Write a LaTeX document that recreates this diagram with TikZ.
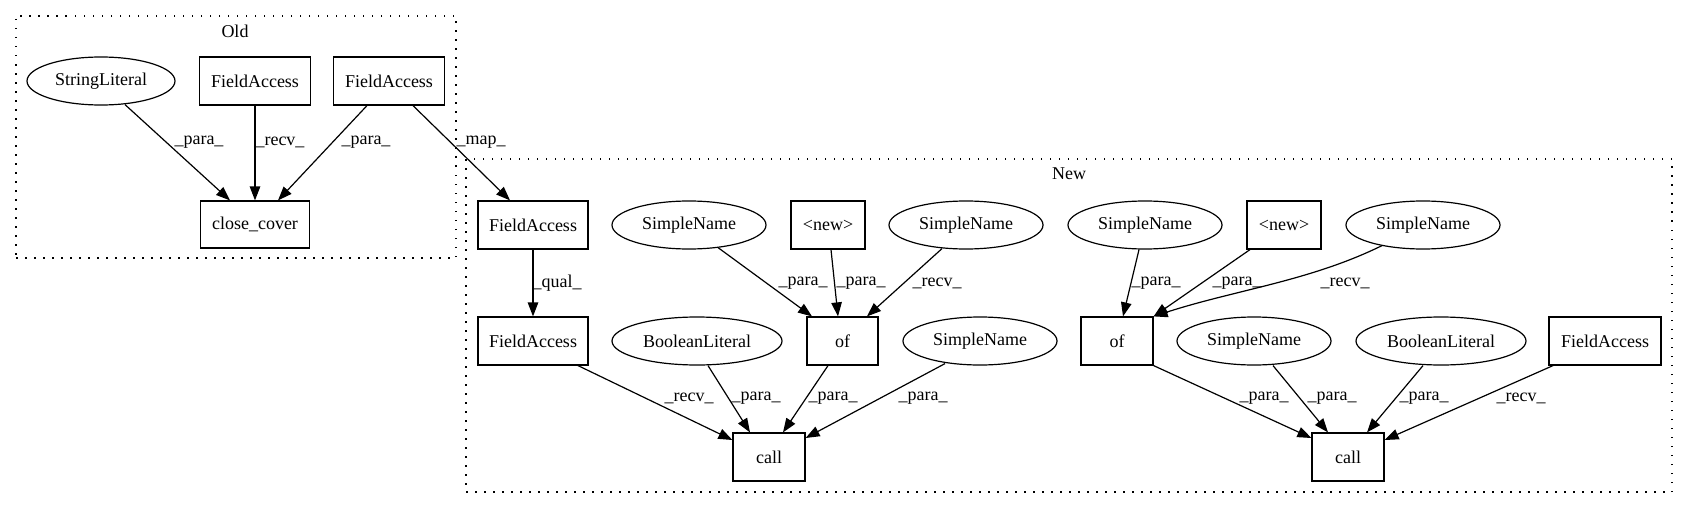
\documentclass[tikz,border=0pt]{standalone}
\usepackage{fontspec}
\setmainfont{Liberation Serif}
\usetikzlibrary{arrows.meta,shapes.geometric}
\begin{document}
\begin{tikzpicture}[x=1pt,y=-1pt,
  every node/.style={font=\fontsize{18}{22}\selectfont},
  box/.style={draw, rectangle, line width=1.2pt, minimum height=48pt, inner sep=0pt},
  oval/.style={draw, ellipse, line width=1.2pt, minimum height=48pt, inner sep=0pt},
  edge/.style={draw, line width=1.2pt, -{Triangle[length=14pt,width=10.5pt]}},
  lbl/.style={inner sep=0pt},
  cluster/.style={draw, line width=1.2pt, dash pattern=on 1.5pt off 7.5pt, inner sep=0pt}]
\useasboundingbox (0,0) rectangle (1688,508);

% clusters
\node[cluster, minimum width=440pt, minimum height=242pt] (oldc) at (236,137) {};
\node[lbl] (oldt) at (235,31) {Old};
\node[cluster, minimum width=1206pt, minimum height=333pt] (newc) at (1069,325.5) {};
\node[lbl] (newt) at (1069,174) {New};

% Old nodes
\node[oval, minimum width=148pt] (sl) at (101,81) {StringLiteral};
\node[box, minimum width=111pt] (faa) at (255,81) {FieldAccess};
\node[box, minimum width=111pt] (fab) at (389,81) {FieldAccess};
\node[box, minimum width=109pt, minimum height=47pt] (cc) at (255,224.5) {close\_cover};

% New nodes
\node[box, minimum width=110pt] (fa1) at (533,225) {FieldAccess};
\node[oval, minimum width=154pt] (sn1) at (689,225) {SimpleName};
\node[box, minimum width=74pt] (nw1) at (828,225) {<new>};
\node[oval, minimum width=154pt] (sn2) at (966,225) {SimpleName};
\node[oval, minimum width=154pt] (sn3) at (1145,225) {SimpleName};
\node[box, minimum width=74pt] (nw2) at (1284,225) {<new>};
\node[oval, minimum width=154pt] (sn4) at (1423,225) {SimpleName};

\node[box, minimum width=110pt] (fa2) at (533,341) {FieldAccess};
\node[oval, minimum width=170pt] (bl1) at (697,341) {BooleanLiteral};
\node[box, minimum width=71pt] (of1) at (842.5,341) {of};
\node[oval, minimum width=154pt] (sn5) at (980,341) {SimpleName};
\node[box, minimum width=72pt] (of2) at (1117,341) {of};
\node[oval, minimum width=154pt] (sn6) at (1254,341) {SimpleName};
\node[oval, minimum width=170pt] (bl2) at (1441,341) {BooleanLiteral};
\node[box, minimum width=112pt] (fa3) at (1605,341) {FieldAccess};

\node[box, minimum width=72pt] (ca1) at (769,457) {call};
\node[box, minimum width=72pt] (ca2) at (1348,457) {call};

% Old edges
\draw[edge] ([xshift=24pt,yshift=1pt]sl.south) -- ([xshift=-25pt]cc.north);
\draw[edge] (faa.south) -- (cc.north);
\draw[edge] ([xshift=-22pt]fab.south) -- ([xshift=23pt]cc.north);
\draw[edge] ([xshift=24pt]fab.south) -- ([xshift=-23pt]fa1.north);

\node[lbl] (l1) at (199,142) {\_para\_};
\node[lbl] (l2) at (280,142) {\_recv\_};
\node[lbl] (l3) at (366,142) {\_para\_};
\node[lbl] (l4) at (481,142) {\_map\_};

% New edges
\draw[edge] (fa1.south) -- (fa2.north);
\draw[edge] ([xshift=29pt,yshift=2pt]sn1.south) -- ([xshift=-30.5pt]of1.north);
\draw[edge] ([xshift=3pt]nw1.south) -- ([xshift=-4.5pt]of1.north);
\draw[edge] ([xshift=-24pt,yshift=1pt]sn2.south) -- ([xshift=24.5pt]of1.north);
\draw[edge] ([xshift=-6pt]sn3.south) -- ([xshift=6pt]of2.north);
\draw[edge] ([xshift=-34pt]nw2.south) -- (of2.north east);
\draw[edge] ([xshift=-41pt,yshift=4pt]sn4.south) .. controls (1310,281) and (1235,290) .. (of2.north east);

\draw[edge] ([xshift=45pt]fa2.south) -- ([yshift=17pt]ca1.west);
\draw[edge] ([xshift=11pt]bl1.south) -- ([xshift=-19pt]ca1.north);
\draw[edge] ([xshift=-14.5pt]of1.south) -- ([xshift=14pt]ca1.north);
\draw[edge] ([xshift=-35pt,yshift=2pt]sn5.south) -- ([yshift=19pt]ca1.east);

\draw[edge] (of2.south east) -- ([yshift=19pt]ca2.west);
\draw[edge] ([xshift=19pt]sn6.south) -- ([xshift=-20pt]ca2.north);
\draw[edge] ([xshift=-18pt]bl2.south) -- ([xshift=19pt]ca2.north);
\draw[edge] ([xshift=-52pt]fa3.south) -- ([yshift=17pt]ca2.east);

\node[lbl] (l5) at (557,283) {\_qual\_};
\node[lbl] (l6) at (803,283) {\_para\_};
\node[lbl] (l7) at (861,283) {\_para\_};
\node[lbl] (l8) at (937,283) {\_recv\_};
\node[lbl] (l9) at (1156,283) {\_para\_};
\node[lbl] (l10) at (1237,283) {\_para\_};
\node[lbl] (l11) at (1345,283) {\_recv\_};

\node[lbl] (l12) at (689,398) {\_recv\_};
\node[lbl] (l13) at (756,398) {\_para\_};
\node[lbl] (l14) at (833,398) {\_para\_};
\node[lbl] (l15) at (923,398) {\_para\_};
\node[lbl] (l16) at (1264,398) {\_para\_};
\node[lbl] (l17) at (1332,398) {\_para\_};
\node[lbl] (l18) at (1424,398) {\_para\_};
\node[lbl] (l19) at (1521,398) {\_recv\_};
\end{tikzpicture}
\end{document}
